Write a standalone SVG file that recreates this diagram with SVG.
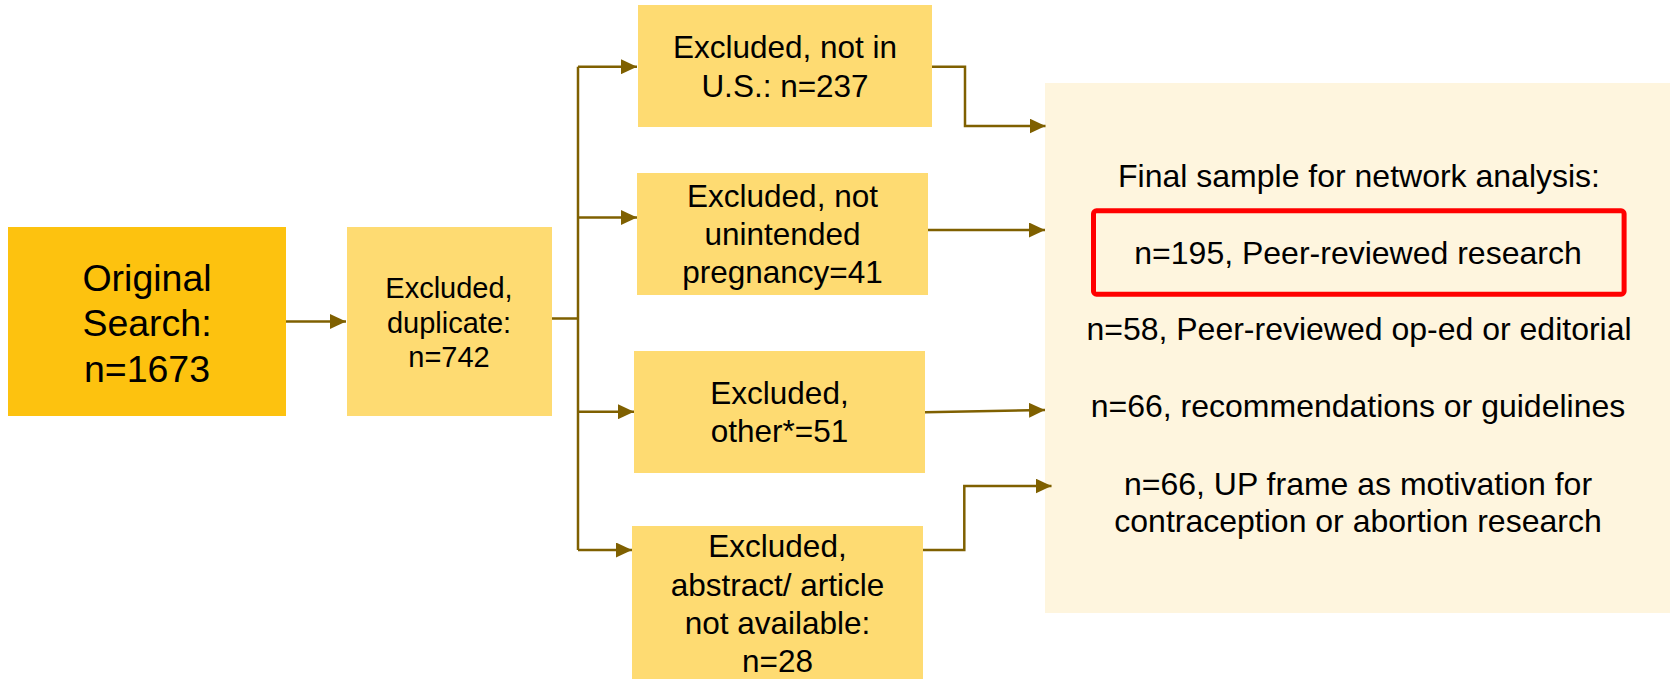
<svg xmlns="http://www.w3.org/2000/svg" width="1670" height="679" viewBox="0 0 1670 679">
<defs>
<style>
.t{font-family:"Liberation Sans",Arial,sans-serif;fill:#000;text-anchor:middle}
.orig{fill:#FDC20F}
.excl{fill:#FEDB72}
.panel{fill:#FEF5DE}
.c{fill:none;stroke:#7F6000;stroke-width:2.5;marker-end:url(#ah)}
</style>
<marker id="ah" markerUnits="userSpaceOnUse" markerWidth="16" markerHeight="15" refX="16" refY="7.5" orient="auto">
<path d="M0,0 L16,7.5 L0,15 Z" fill="#7F6000"/>
</marker>
</defs>
<rect width="1670" height="679" fill="#fff"/>
<g id="original">
<rect class="orig" x="8" y="227" width="278" height="189"/>
<text class="t" font-size="37.5" x="147" y="291">Original</text>
<text class="t" font-size="37.5" x="147" y="336">Search:</text>
<text class="t" font-size="37.5" x="147" y="382">n=1673</text>
</g>
<g id="duplicate">
<rect class="excl" x="347" y="227" width="205" height="189"/>
<text class="t" font-size="29" x="449" y="298">Excluded,</text>
<text class="t" font-size="29" x="449" y="333">duplicate:</text>
<text class="t" font-size="29" x="449" y="367">n=742</text>
</g>
<g id="not-us">
<rect class="excl" x="638" y="5" width="294" height="122"/>
<text class="t" font-size="31.5" x="785" y="58">Excluded, not in</text>
<text class="t" font-size="31.5" x="785" y="97">U.S.: n=237</text>
</g>
<g id="not-up">
<rect class="excl" x="637" y="173" width="291" height="122"/>
<text class="t" font-size="31.5" x="782.5" y="207">Excluded, not</text>
<text class="t" font-size="31.5" x="782.5" y="245">unintended</text>
<text class="t" font-size="31.5" x="782.5" y="283">pregnancy=41</text>
</g>
<g id="other">
<rect class="excl" x="634" y="351" width="291" height="122"/>
<text class="t" font-size="31.5" x="779.5" y="404">Excluded,</text>
<text class="t" font-size="31.5" x="779.5" y="442">other*=51</text>
</g>
<g id="not-available">
<rect class="excl" x="632" y="526" width="291" height="153"/>
<text class="t" font-size="31.5" x="777.5" y="557">Excluded,</text>
<text class="t" font-size="31.5" x="777.5" y="596">abstract/ article</text>
<text class="t" font-size="31.5" x="777.5" y="634">not available:</text>
<text class="t" font-size="31.5" x="777.5" y="672">n=28</text>
</g>
<g id="final-sample">
<rect class="panel" x="1045" y="83" width="625" height="530"/>
<text class="t" font-size="32" x="1359" y="187">Final sample for network analysis:</text>
<rect x="1093.5" y="210.8" width="530.6" height="83.4" rx="3" fill="none" stroke="#FF0000" stroke-width="5"/>
<text class="t" font-size="32" x="1358" y="264">n=195, Peer-reviewed research</text>
<text class="t" font-size="32" x="1359" y="340">n=58, Peer-reviewed op-ed or editorial</text>
<text class="t" font-size="32" x="1358" y="417">n=66, recommendations or guidelines</text>
<text class="t" font-size="32" x="1358" y="495">n=66, UP frame as motivation for</text>
<text class="t" font-size="32" x="1358" y="532">contraception or abortion research</text>
</g>
<g id="connectors">
<path class="c" d="M286,321.5 H346"/>
<path d="M552,318.6 H578 M578,66.7 V550" fill="none" stroke="#7F6000" stroke-width="2.5"/>
<path class="c" d="M578,66.7 H637"/>
<path class="c" d="M578,217.5 H637"/>
<path class="c" d="M578,411.7 H634"/>
<path class="c" d="M578,550 H632"/>
<path class="c" d="M932,66.7 H965 V126 H1045.5"/>
<path class="c" d="M928,230 H1045"/>
<path class="c" d="M925,412.3 L1045,410"/>
<path class="c" d="M923,550 H964.3 V486 H1051.5"/>
</g>
</svg>
